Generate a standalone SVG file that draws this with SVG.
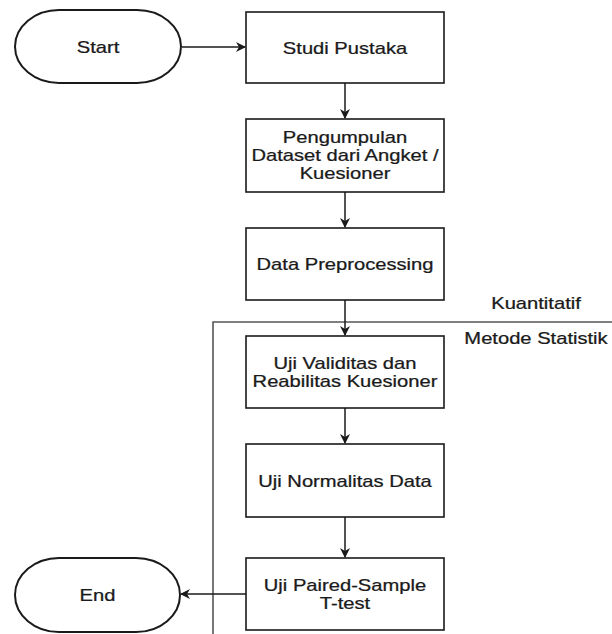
<svg xmlns="http://www.w3.org/2000/svg" width="612" height="634" viewBox="0 0 612 634">
<defs>
<style>
.box{fill:#fff;stroke:#1a1a1a;stroke-width:1.6}
.term{fill:#fff;stroke:#1a1a1a;stroke-width:2}
.t{font-family:"Liberation Sans",Arial,sans-serif;font-size:16px;fill:#1a1a1a;stroke:#1a1a1a;stroke-width:0.25;text-anchor:middle}
.lab{font-family:"Liberation Sans",Arial,sans-serif;font-size:16px;fill:#1a1a1a;stroke:#1a1a1a;stroke-width:0.25;text-anchor:middle}
.edge{fill:none;stroke:#1a1a1a;stroke-width:1.5}
.frame{fill:none;stroke:#555;stroke-width:1.6}
</style>
<marker id="ah" viewBox="0 0 10 10" refX="9" refY="5" markerWidth="10" markerHeight="10" markerUnits="userSpaceOnUse" orient="auto">
<path d="M0,0 L10,5 L0,10 L3,5 Z" fill="#1a1a1a"/>
</marker>
</defs>
<rect width="612" height="634" fill="#fff"/>
<g id="frame">
<path class="frame" d="M612 322 H213 V634"/>
<text class="lab" transform="translate(536,309) scale(1.26,1)">Kuantitatif</text>
<text class="lab" transform="translate(536,344) scale(1.26,1)">Metode Statistik</text>
</g>
<g id="connectors">
<path class="edge" d="M182 47 H245" marker-end="url(#ah)"/>
<path class="edge" d="M345 83 V118" marker-end="url(#ah)"/>
<path class="edge" d="M345 192 V227" marker-end="url(#ah)"/>
<path class="edge" d="M345 300 V335" marker-end="url(#ah)"/>
<path class="edge" d="M345 408 V443" marker-end="url(#ah)"/>
<path class="edge" d="M345 517 V557" marker-end="url(#ah)"/>
<path class="edge" d="M246 594 H181" marker-end="url(#ah)"/>
</g>
<g id="start">
<rect class="term" x="15" y="10" width="166" height="73" rx="44" ry="36.5"/>
<text class="t" transform="translate(98,53) scale(1.26,1)">Start</text>
</g>
<g id="studi">
<rect class="box" x="246" y="12" width="198" height="71"/>
<text class="t" transform="translate(345,53.5) scale(1.26,1)">Studi Pustaka</text>
</g>
<g id="pengumpulan">
<rect class="box" x="246" y="119" width="198" height="73"/>
<text class="t" transform="translate(345,143) scale(1.26,1)">Pengumpulan</text>
<text class="t" transform="translate(345,161) scale(1.26,1)">Dataset dari Angket /</text>
<text class="t" transform="translate(345,179) scale(1.26,1)">Kuesioner</text>
</g>
<g id="preprocessing">
<rect class="box" x="246" y="228" width="198" height="72"/>
<text class="t" transform="translate(345,270) scale(1.26,1)">Data Preprocessing</text>
</g>
<g id="validitas">
<rect class="box" x="246" y="336" width="198" height="72"/>
<text class="t" transform="translate(345,368.5) scale(1.26,1)">Uji Validitas dan</text>
<text class="t" transform="translate(345,386.5) scale(1.26,1)">Reabilitas Kuesioner</text>
</g>
<g id="normalitas">
<rect class="box" x="246" y="444" width="198" height="73"/>
<text class="t" transform="translate(345,486.5) scale(1.26,1)">Uji Normalitas Data</text>
</g>
<g id="ttest">
<rect class="box" x="246" y="558" width="198" height="72"/>
<text class="t" transform="translate(345,590.5) scale(1.26,1)">Uji Paired-Sample</text>
<text class="t" transform="translate(345,608.5) scale(1.26,1)">T-test</text>
</g>
<g id="end">
<rect class="term" x="15" y="558" width="165" height="74" rx="44" ry="37"/>
<text class="t" transform="translate(97.5,600.5) scale(1.26,1)">End</text>
</g>
</svg>
